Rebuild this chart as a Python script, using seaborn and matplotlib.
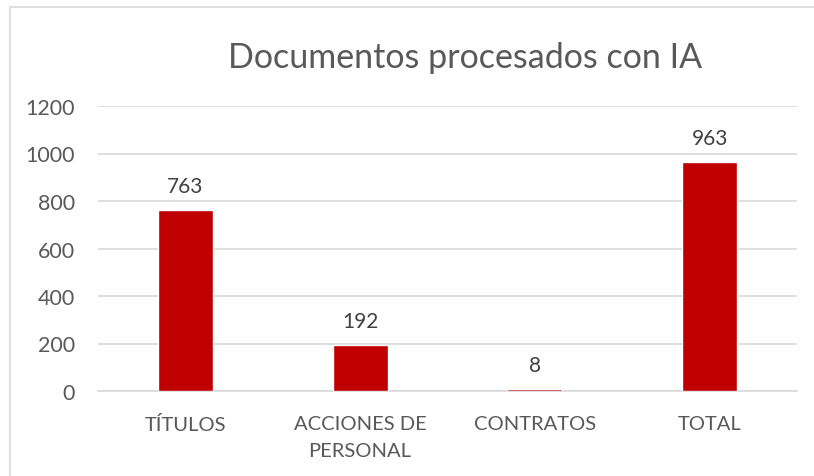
import matplotlib
matplotlib.use("Agg")
import matplotlib.pyplot as plt
import seaborn as sns
import pandas as pd
from matplotlib.patches import Rectangle

categories = ["TÍTULOS", "ACCIONES DE\nPERSONAL", "CONTRATOS", "TOTAL"]
values = [763, 192, 8, 963]
yticks = [0, 200, 400, 600, 800, 1000, 1200]

sns.set_style("white")
plt.rcParams['font.family'] = ['Lato', 'DejaVu Sans']

df = pd.DataFrame({"cat": categories, "val": values})

fig = plt.figure(figsize=(8.14, 4.77), dpi=100)
ax = fig.add_axes([98 / 814, 1 - 392 / 477, (797 - 98) / 814, (392 - 107) / 477])

sns.barplot(data=df, x="cat", y="val", color="#C00000", width=0.315,
            saturation=1, ax=ax, zorder=3)

ax.set_ylim(0, 1200)
ax.set_yticks(yticks)
ax.set_yticklabels([str(v) for v in yticks], fontsize=15.5, color="#595959")
ax.set_xticks(range(len(categories)))
ax.set_xticklabels(categories, fontsize=14.5, color="#595959", linespacing=1.72)
ax.tick_params(axis="both", length=0)
ax.tick_params(axis="y", pad=16.5)
ax.tick_params(axis="x", pad=17)
ax.set_xlabel("")
ax.set_ylabel("")
ax.grid(axis="y", color="#D9D9D9", linewidth=1.2, zorder=0)
for s in ["top", "right", "left"]:
    ax.spines[s].set_visible(False)
ax.spines["bottom"].set_color("#D9D9D9")
ax.spines["bottom"].set_linewidth(1.2)

for i, v in enumerate(values):
    ax.text(i, v + 102, str(v), ha="center", va="center", fontsize=15, color="#404040")

fig.text(465 / 814, 1 - 58 / 477, "Documentos procesados con IA", ha="center", va="center",
         fontsize=24.5, color="#595959")

fig.patches.append(Rectangle((10 / 814, -0.1), 1.1, 1 - 8 / 477 + 0.1, transform=fig.transFigure,
                             fill=False, edgecolor="#D9D9D9", linewidth=1.2))

fig.savefig("out.png", dpi=100)
